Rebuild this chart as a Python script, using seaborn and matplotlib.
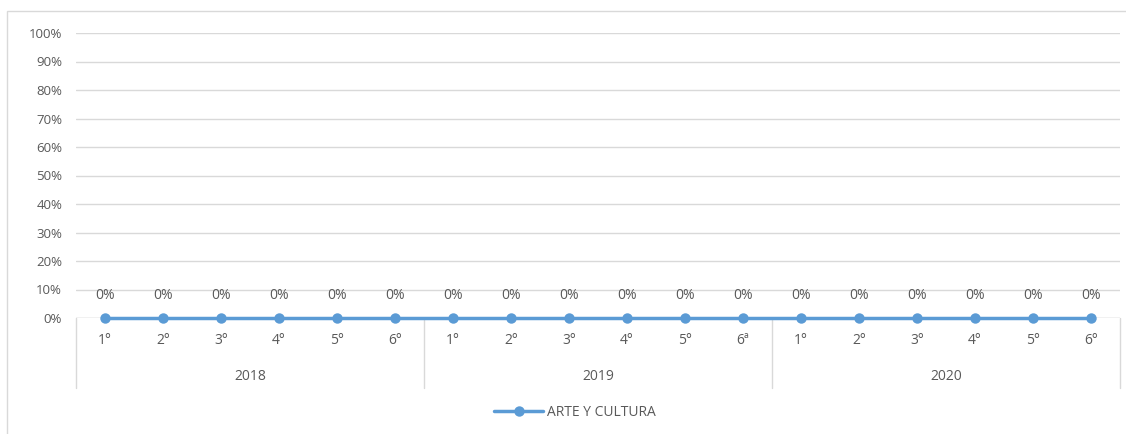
import numpy as np
import pandas as pd
import seaborn as sns
import matplotlib.pyplot as plt
from matplotlib.patches import Rectangle
import matplotlib.transforms as mtransforms

# chart data
years = ['2018', '2019', '2020']
grades = ['1°', '2°', '3°', '4°', '5°', '6°',
          '1°', '2°', '3°', '4°', '5°', '6ª',
          '1°', '2°', '3°', '4°', '5°', '6°']
arte_y_cultura = [0.0] * 18
y_ticks = [0, 10, 20, 30, 40, 50, 60, 70, 80, 90, 100]

df = pd.DataFrame({'pos': np.arange(len(grades)), 'valor': arte_y_cultura})

sns.set_style('white')
plt.rcParams['font.family'] = ['Open Sans', 'DejaVu Sans']

text_color = '#595959'
grid_color = '#D9D9D9'
line_color = '#5B9BD5'

fig = plt.figure(figsize=(11.26, 4.34), dpi=100)
ax = fig.add_axes([76 / 1126, 1 - 318 / 434, (1120 - 76) / 1126, (318 - 33) / 434])

# outer chart border
fig.patches.append(Rectangle((7 / 1126, -0.1), 1.2, 1 - 11 / 434 + 0.1,
                             transform=fig.transFigure, fill=False,
                             edgecolor=grid_color, linewidth=1))

sns.lineplot(data=df, x='pos', y='valor', ax=ax, color=line_color, linewidth=2.5,
             marker='o', markersize=7.5, markeredgewidth=0, label='ARTE Y CULTURA')
for ln in ax.lines:
    ln.set_clip_on(False)
    ln.set_zorder(3)

ax.set_xlim(-0.5, len(grades) - 0.5)
ax.set_ylim(0, 100)
ax.set_yticks(y_ticks)
ax.set_yticklabels([f'{t}%' for t in y_ticks], color=text_color, fontsize=9.5)
ax.tick_params(axis='y', length=0, pad=10)
ax.set_xticks([])
ax.set_xlabel('')
ax.set_ylabel('')
for s in ax.spines.values():
    s.set_visible(False)
ax.grid(axis='y', color=grid_color, linewidth=1)
ax.set_axisbelow(True)
ax.axhline(0, color=grid_color, linewidth=1, zorder=1)

# data labels
for x, v in zip(df['pos'], df['valor']):
    ax.text(x, v + 8, f'{v:.0f}%', ha='center', va='center', color=text_color, fontsize=10)

# grade labels and year groups below the axis
trans = mtransforms.blended_transform_factory(ax.transData, ax.transAxes)
for x, g in zip(df['pos'], grades):
    ax.text(x, -23 / 285, g, transform=trans, ha='center', va='center',
            color=text_color, fontsize=10)
n = 6
for i, yr in enumerate(years):
    ax.text(i * n + (n - 1) / 2, -59 / 285, yr, transform=trans, ha='center',
            va='center', color=text_color, fontsize=10)
for b in range(len(years) + 1):
    ax.plot([b * n - 0.5, b * n - 0.5], [0, -70 / 285], transform=trans,
            color=grid_color, linewidth=1, clip_on=False)

leg = ax.legend(loc='center', bbox_to_anchor=(575 / 1126, 1 - 412 / 434),
                bbox_transform=fig.transFigure, frameon=False, fontsize=10,
                handlelength=3.5, handletextpad=0.3)
for t in leg.get_texts():
    t.set_color(text_color)

fig.savefig('out.png', dpi=100)
